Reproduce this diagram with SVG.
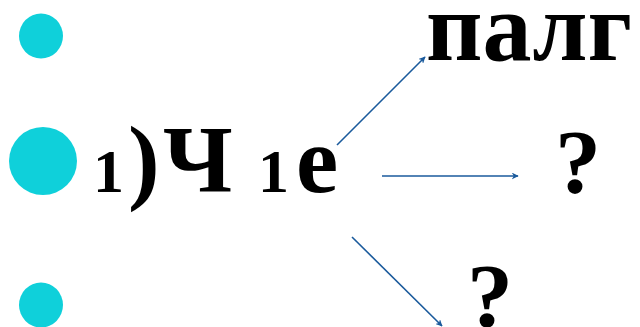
<svg xmlns="http://www.w3.org/2000/svg" width="640" height="327" viewBox="0 0 640 327">
<style>
.b{fill:#0fd0da}
.t{font-family:"Liberation Serif","DejaVu Serif",serif;font-weight:bold;fill:#000}
.c{stroke:#1a5a9c;stroke-width:1.6;fill:none}
</style>
<defs>
<marker id="ah" viewBox="0 0 10 10" refX="9" refY="5" markerWidth="7" markerHeight="7" markerUnits="userSpaceOnUse" orient="auto">
<path d="M0,0 L10,5 L0,10 L3,5 Z" fill="#1a5a9c"/>
</marker>
</defs>
<rect width="640" height="327" fill="#fff"/>
<g id="bullet1"><ellipse class="b" cx="41" cy="36" rx="22" ry="22.5"/></g>
<g id="bullet2"><ellipse class="b" cx="43" cy="161" rx="34" ry="34"/></g>
<g id="bullet3"><ellipse class="b" cx="41" cy="305" rx="22" ry="22.5"/></g>
<g id="source"><text class="t" y="192" font-size="95"><tspan x="93" font-size="62">1</tspan><tspan x="128">)</tspan><tspan x="163">Ч </tspan><tspan x="258" font-size="62">1</tspan><tspan x="296">е</tspan></text></g>
<g id="target1"><text class="t" x="426" y="60" font-size="98" textLength="206" lengthAdjust="spacingAndGlyphs">палг</text></g>
<g id="target2"><text class="t" x="555" y="193" font-size="92">?</text></g>
<g id="target3"><text class="t" x="467" y="327" font-size="92">?</text></g>
<g id="connectors">
<line class="c" x1="337" y1="145" x2="425" y2="57" marker-end="url(#ah)"/>
<line class="c" x1="382" y1="176" x2="518" y2="176" marker-end="url(#ah)"/>
<line class="c" x1="352" y1="237" x2="442" y2="326" marker-end="url(#ah)"/>
</g>
</svg>
